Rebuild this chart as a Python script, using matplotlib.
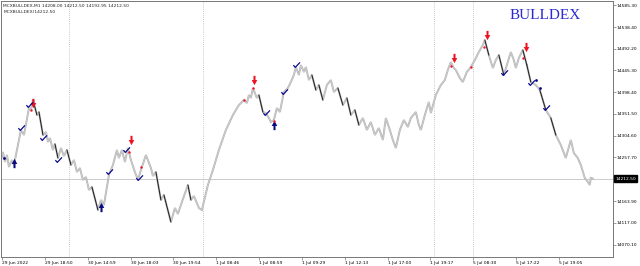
import matplotlib
matplotlib.use("Agg")
import matplotlib.pyplot as plt
from matplotlib.path import Path
from matplotlib.transforms import blended_transform_factory

# renko path pivots (bar position, price)
bar_x = [0, 2, 4, 6, 8, 11, 13, 20, 23, 28, 30, 32, 36, 38, 42, 45, 47, 49, 52, 54,
         57, 60, 63, 66, 70, 73, 76, 79, 82, 85, 88, 91, 97, 100, 103, 108, 112, 116, 118, 121,
         124, 127, 130, 134, 137, 140, 145, 150, 152, 155, 160, 163, 170, 174, 177, 181, 187, 190, 193, 198,
         201, 207, 212, 218, 225, 232, 238, 243, 246, 248, 250, 252, 256, 258, 262, 265, 268, 270, 273, 276,
         279, 283, 287, 290, 293, 295, 298, 300, 303, 305, 308, 311, 315, 318, 322, 326, 330, 333, 337, 342,
         346, 350, 354, 358, 362, 366, 370, 374, 378, 382, 385, 389, 392, 395, 399, 403, 407, 410, 415, 418,
         420, 424, 428, 430, 435, 440, 444, 447, 450, 453, 455, 459, 462, 466, 470, 474, 478, 482, 484, 488,
         492, 495, 498, 503, 507, 510, 513, 515, 518, 522, 526, 530, 535, 539, 545, 550, 555, 560, 565, 570,
         573, 577, 580, 584, 587, 589, 590, 592]
bar_price = [14252.3, 14269.5, 14248.0, 14263.1, 14237.3, 14252.3, 14241.6, 14316.9, 14306.1, 14364.2,
             14359.9, 14381.4, 14349.1, 14355.6, 14306.1, 14312.6, 14291.1, 14299.7, 14273.9, 14286.8,
             14256.6, 14278.1, 14260.9, 14273.9, 14241.6, 14252.3, 14226.5, 14235.1, 14209.3, 14215.8,
             14187.8, 14194.3, 14144.8, 14166.3, 14155.5, 14220.1, 14241.6, 14273.9, 14256.6, 14273.9,
             14248.0, 14278.1, 14252.3, 14226.5, 14209.3, 14230.8, 14263.1, 14235.1, 14217.9, 14226.5,
             14166.3, 14177.1, 14119.0, 14149.1, 14136.2, 14162.0, 14198.6, 14166.3, 14174.9, 14149.1,
             14144.8, 14198.6, 14230.8, 14273.9, 14316.9, 14349.1, 14370.6, 14381.4, 14375.0, 14392.2,
             14385.7, 14407.2, 14385.7, 14392.2, 14355.6, 14353.4, 14342.7, 14334.1, 14338.4, 14364.2,
             14355.6, 14398.6, 14407.2, 14420.1, 14435.2, 14452.4, 14435.2, 14456.7, 14441.6, 14452.4,
             14424.4, 14435.2, 14402.9, 14413.7, 14381.4, 14413.7, 14424.4, 14398.6, 14407.2, 14370.6,
             14385.7, 14349.1, 14359.9, 14327.6, 14342.7, 14316.9, 14334.1, 14306.1, 14321.2, 14295.4,
             14342.7, 14316.9, 14295.4, 14278.1, 14316.9, 14338.4, 14323.3, 14342.7, 14355.6, 14327.6,
             14316.9, 14349.1, 14377.1, 14353.4, 14392.2, 14413.7, 14424.4, 14445.9, 14463.1, 14450.2,
             14445.9, 14428.7, 14420.1, 14441.6, 14452.4, 14467.4, 14484.6, 14499.7, 14510.5, 14478.2,
             14450.2, 14467.4, 14478.2, 14435.2, 14463.1, 14484.6, 14467.4, 14450.2, 14471.7, 14489.0,
             14456.7, 14420.1, 14413.7, 14402.9, 14359.9, 14342.7, 14306.1, 14284.6, 14256.6, 14295.4,
             14267.4, 14256.6, 14241.6, 14213.6, 14205.0, 14198.6, 14213.6, 14212.5]

# signals
sell_x = [32, 130, 253, 453, 486, 525]
sell_y = [14375.0, 14295.4, 14424.4, 14471.7, 14521.2, 14495.4]
buy_x = [13, 100, 273]
buy_y = [14245.9, 14151.2, 14327.6]
check_x = [20, 28, 42, 57, 108, 125, 138, 265, 283, 295, 503, 530, 545]
check_y = [14321.2, 14370.6, 14299.7, 14252.3, 14226.5, 14273.9, 14213.6,
           14353.4, 14398.6, 14456.7, 14439.5, 14418.0, 14364.2]
red_dot_x = [30, 128, 140, 243, 252, 273, 450, 470, 483, 522]
red_dot_y = [14359.9, 14269.5, 14237.3, 14381.4, 14407.2, 14336.2,
             14454.5, 14452.4, 14495.4, 14471.7]
blue_dot_x = [3, 535, 539]
blue_dot_y = [14256.6, 14424.4, 14407.2]

last_price = 14212.50
y_ticks = [14585.30, 14538.40, 14492.20, 14445.30, 14398.40, 14351.50,
           14304.60, 14257.70, 14163.90, 14117.00, 14070.10]
x_ticks = [1, 44, 87, 130, 172, 215, 258, 301, 344, 387, 429, 472, 515, 558]
x_labels = ["29 Jun 2022", "29 Jun 18:50", "30 Jun 14:59", "30 Jun 18:03", "30 Jun 19:54",
            "1 Jul 08:46", "1 Jul 08:59", "1 Jul 09:29", "1 Jul 12:13", "1 Jul 17:00",
            "1 Jul 19:17", "5 Jul 08:30", "5 Jul 17:22", "5 Jul 19:05"]
separators = [68, 202, 433, 472]

fig = plt.figure(figsize=(6.4, 2.66), dpi=100)
ax = fig.add_axes([0.0015, 0.034, 0.956, 0.962])
ax.set_xlim(0, 612)
ax.set_ylim(14043.7, 14594.3)

for s in separators:
    ax.axvline(s, color="#b8b8b8", lw=0.6, ls=(0, (1, 1.5)))
ax.axhline(last_price, color="#cccccc", lw=0.7)

# base path, light grey bricks
ax.plot(bar_x, bar_price, color="#b4b4b4", lw=1.4, solid_joinstyle="miter")
ax.plot(bar_x, bar_price, color="#d8d8d8", lw=0.4)
# long falling runs drawn in black
for i in range(len(bar_x) - 1):
    drop = bar_price[i] - bar_price[i + 1]
    if drop > 30:
        ax.plot(bar_x[i:i + 2], bar_price[i:i + 2], color="#1a1a1a", lw=0.7)

arrow_down = Path([(-0.22, 1), (0.22, 1), (0.22, 0.1), (0.6, 0.1), (0, -1),
                   (-0.6, 0.1), (-0.22, 0.1), (-0.22, 1)],
                  [Path.MOVETO] + [Path.LINETO] * 6 + [Path.CLOSEPOLY])
arrow_up = Path([(x, -y) for x, y in arrow_down.vertices], arrow_down.codes)
tick_mark = Path([(-0.9, 0.1), (-0.35, -0.55), (1, 0.9)],
                 [Path.MOVETO, Path.LINETO, Path.LINETO])

ax.scatter(sell_x, sell_y, marker=arrow_down, s=45, color="#ee1122", zorder=5, lw=0)
ax.scatter(buy_x, buy_y, marker=arrow_up, s=45, color="#0a0a80", zorder=5, lw=0)
ax.plot(check_x, check_y, ls="none", marker=tick_mark, ms=5, mfc="none",
        mec="#0a0a90", mew=0.9, zorder=5)
ax.scatter(red_dot_x, red_dot_y, marker="o", s=3, color="#ee1122", zorder=5, lw=0)
ax.scatter(blue_dot_x, blue_dot_y, marker="o", s=4, color="#0a0a80", zorder=5, lw=0)

# axes
for sp in ax.spines.values():
    sp.set_color("#777777")
    sp.set_linewidth(0.7)
ax.yaxis.tick_right()
ax.set_yticks(y_ticks)
ax.set_yticklabels([f"{v:.2f}" for v in y_ticks])
ax.set_xticks(x_ticks)
ax.set_xticklabels(x_labels)
ax.tick_params(axis="both", labelsize=3.2, length=2, width=0.5, color="#777777", pad=1)
for lab in ax.get_xticklabels():
    lab.set_ha("left")

tr = blended_transform_factory(ax.transAxes, ax.transData)
ax.text(1.004, last_price, "14212.50", transform=tr, fontsize=3.2, color="white",
        va="center", ha="left",
        bbox=dict(boxstyle="square,pad=0.25", fc="black", ec="black"))

ax.text(0.004, 0.99, "MCXBULLDEX,M1 14208.00 14212.50 14192.95 14212.50",
        transform=ax.transAxes, fontsize=3.2, va="top", ha="left", color="#222222")
ax.text(0.004, 0.965, "MCXBULLDEX(14212.50",
        transform=ax.transAxes, fontsize=3.2, va="top", ha="left", color="#222222")
ax.text(0.89, 0.945, "BULLDEX", transform=ax.transAxes, fontsize=11,
        family="Liberation Serif", color="#2a2ad0", ha="center", va="center")

fig.savefig("out.png", dpi=100)
